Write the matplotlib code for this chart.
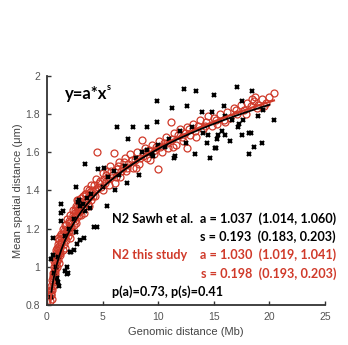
import numpy as np
from matplotlib import pyplot as plt

# red circles: N2 this study
red_x = [0.3, 0.35, 0.4, 0.42, 0.45, 0.5, 0.5, 0.55, 0.6, 0.6, 0.65, 0.7, 0.7, 0.75, 0.8, 0.85, 0.9, 0.9,
         0.95, 1.0, 1.0, 1.05, 1.1, 1.1, 1.2, 1.2, 1.3, 1.3, 1.4, 1.4, 1.5, 1.5, 1.6, 1.6, 1.7, 1.7, 1.8,
         1.8, 1.9, 2.0, 2.0, 2.1, 2.1, 2.2, 2.3, 2.3, 2.4, 2.5, 2.5, 2.6, 2.67, 2.7, 2.7, 2.8, 2.82, 2.9,
         3.0, 3.0, 3.1, 3.2, 3.3, 3.4, 3.5, 3.6, 3.7, 3.8, 3.9, 4.0, 4.1, 4.3, 4.4, 4.5, 4.6, 4.8, 5.0,
         5.0, 5.2, 5.4, 5.5, 5.7, 5.9, 6.0, 6.1, 6.3, 6.5, 6.6, 6.8, 7.0, 7.1, 7.3, 7.5, 7.7, 7.9, 8.1,
         8.3, 8.5, 8.6, 8.8, 9.0, 9.2, 9.4, 9.6, 9.8, 10.0, 10.1, 10.3, 10.5, 10.7, 10.9, 11.15, 11.2,
         11.4, 11.6, 11.8, 12.0, 12.2, 12.4, 12.6, 12.6, 12.9, 13.1, 13.3, 13.6, 13.8, 14.0, 14.3, 14.5,
         14.8, 15.0, 15.3, 15.6, 15.9, 16.2, 16.5, 16.8, 17.1, 17.4, 17.7, 18.0, 18.3, 18.4, 18.6, 18.7,
         19.0, 19.3, 19.7, 20.0, 20.4,
         0.32, 0.38, 0.45, 0.52, 0.58, 0.62, 0.68, 0.72, 0.78, 0.82, 0.88, 0.92, 0.98, 1.02, 1.08, 1.15,
         1.18, 1.25, 1.35, 1.45, 1.55, 1.65, 1.75, 1.85, 1.95, 2.05, 2.15, 2.25, 2.35, 2.45, 2.55, 2.65,
         2.75, 2.85, 2.95, 3.05, 3.15, 3.25, 3.35, 3.45, 3.55, 3.65, 3.75, 3.85, 3.95, 4.05, 4.2, 4.35,
         4.5, 4.7, 4.9, 5.1, 5.3, 5.6, 5.8, 6.2, 6.4, 6.7, 6.9, 7.2, 7.6, 8.0, 8.4, 8.9, 9.3, 9.7, 10.2,
         10.8, 11.3, 12.1, 12.8, 13.4, 14.2, 15.2, 16.0, 17.0, 17.9, 18.9, 19.5]
red_y = [0.82, 0.85, 0.88, 0.83, 0.93, 0.90, 0.95, 0.92, 0.97, 1.00, 0.95, 1.02, 0.98, 1.05, 1.01, 1.07, 1.03, 1.10,
         1.06, 1.04, 1.12, 1.08, 1.02, 1.14, 1.10, 1.06, 1.13, 1.17, 1.09, 1.20, 1.12, 1.15, 1.22, 1.10, 1.18, 1.14, 1.20,
         1.25, 1.16, 1.19, 1.23, 1.27, 1.15, 1.21, 1.25, 1.30, 1.22, 1.28, 1.24, 1.32, 1.315, 1.26, 1.35, 1.30, 1.35, 1.27,
         1.33, 1.29, 1.36, 1.31, 1.28, 1.38, 1.34, 1.41, 1.36, 1.32, 1.39, 1.43, 1.37, 1.40, 1.46, 1.60, 1.42, 1.45, 1.49,
         1.40, 1.44, 1.50, 1.46, 1.53, 1.48, 1.595, 1.44, 1.51, 1.55, 1.47, 1.52, 1.57, 1.50, 1.54, 1.59, 1.52, 1.56, 1.60,
         1.54, 1.665, 1.58, 1.62, 1.57, 1.61, 1.64, 1.59, 1.63, 1.51, 1.66, 1.60, 1.65, 1.68, 1.62, 1.76, 1.67,
         1.70, 1.64, 1.69, 1.72, 1.66, 1.70, 1.73, 1.62, 1.69, 1.75, 1.71, 1.74, 1.77, 1.72, 1.76, 1.79,
         1.74, 1.78, 1.75, 1.80, 1.77, 1.81, 1.78, 1.83, 1.80, 1.85, 1.82, 1.86, 1.84, 1.88, 1.87, 1.89,
         1.85, 1.88, 1.86, 1.89, 1.91,
         0.86, 0.90, 0.88, 0.97, 0.94, 1.03, 0.99, 0.96, 1.03, 1.09, 1.05, 1.00, 1.09, 1.15, 1.11, 1.07,
         1.16, 1.12, 1.15, 1.17, 1.19, 1.16, 1.22, 1.18, 1.24, 1.21, 1.24, 1.19, 1.27, 1.26, 1.30, 1.23,
         1.29, 1.33, 1.31, 1.27, 1.34, 1.37, 1.32, 1.35, 1.38, 1.33, 1.40, 1.37, 1.35, 1.40, 1.43, 1.37,
         1.41, 1.44, 1.42, 1.46, 1.48, 1.43, 1.50, 1.47, 1.53, 1.50, 1.55, 1.52, 1.56, 1.52, 1.57, 1.60, 1.56, 1.61, 1.63,
         1.65, 1.63, 1.68, 1.72, 1.68, 1.74, 1.77, 1.76, 1.82, 1.80, 1.83, 1.84]

# black crosses: N2 Sawh et al.
black_x = [12.3, 13.4, 15.0, 17.1, 18.4, 9.9, 11.2, 12.6, 20.4, 19.4, 17.6, 17.2, 17.5, 18.2, 16.5, 15.2, 19.3,
           18.6, 13.3, 14.7, 18.2, 11.4, 6.3, 7.7, 9.0, 9.9, 7.3, 3.4, 7.2, 8.3, 4.6, 5.1, 6.1, 2.6, 5.4, 1.3,
           2.9, 10.6, 11.5, 9.0, 9.4, 1.3, 1.3, 0.5, 0.4, 1.8, 1.9, 1.0, 1.1, 0.4, 4.5, 3.3, 2.2, 2.6, 1.4,
           2.8, 3.0, 3.4, 3.9, 4.2, 3.0, 2.7, 2.4, 2.1, 1.6, 1.8, 0.9, 0.5, 17.5, 15.9, 13.9, 14.8, 16.6,
           17.3, 18.3, 15.7, 15.4, 16.0, 14.5, 14.4, 15.3, 15.1,
           0.6, 0.8, 1.0, 1.6, 2.0, 2.4, 3.2, 3.6, 4.0, 5.0, 5.5, 6.0, 6.5, 7.0, 8.0, 8.5, 9.5, 10.0,
           11.0, 12.0, 12.5, 13.0, 14.0, 16.0, 19.0]
black_y = [1.93, 1.92, 1.90, 1.94, 1.92, 1.87, 1.83, 1.84, 1.77, 1.82, 1.77, 1.73, 1.69, 1.70, 1.66, 1.62, 1.65,
           1.63, 1.59, 1.57, 1.59, 1.57, 1.73, 1.73, 1.73, 1.76, 1.67, 1.54, 1.44, 1.48, 1.51, 1.52, 1.40, 1.42, 1.32, 1.33,
           1.35, 1.63, 1.58, 1.61, 1.59, 1.28, 1.24, 1.15, 1.04, 1.00, 0.97, 0.92, 0.90, 0.84, 1.21, 1.15, 1.08, 1.18, 1.29,
           1.34, 1.32, 1.29, 1.31, 1.21, 1.14, 1.12, 1.09, 1.08, 0.98, 0.96, 0.94, 1.06, 1.87, 1.84, 1.81, 1.81, 1.77,
           1.75, 1.70, 1.71, 1.69, 1.69, 1.69, 1.65, 1.67, 1.62,
           0.97, 1.00, 1.05, 1.16, 1.20, 1.25, 1.33, 1.36, 1.38, 1.42, 1.47, 1.50, 1.48, 1.53, 1.57, 1.60, 1.58, 1.64,
           1.67, 1.71, 1.65, 1.73, 1.70, 1.79, 1.79]

# power-law fits y = a * x^s
fit_sawh = (1.037, 0.193)
fit_this = (1.030, 0.198)

red = '#d03a2a'
gray = '#444444'

fig = plt.figure(figsize=(3.48, 3.45), dpi=100)
ax = fig.add_axes([0.135, 0.116, 0.799, 0.664])

ax.plot(red_x, red_y, 'o', mfc='none', mec=red, ms=5, mew=0.9)
ax.plot(black_x, black_y, 'x', color='black', ms=3.2, mew=1.6)

xs = np.linspace(0.3, 20.4, 200)
ax.plot(xs, fit_this[0] * xs ** fit_this[1], color=red, lw=1.6)
xs = np.linspace(0.4, 20.0, 200)
ax.plot(xs, fit_sawh[0] * xs ** fit_sawh[1], color='black', lw=1.3)

ax.set_xlim(0, 25)
ax.set_ylim(0.8, 2.0)
ax.set_xticks([0, 5, 10, 15, 20, 25])
ax.set_yticks([0.8, 1, 1.2, 1.4, 1.6, 1.8, 2])
ax.set_yticklabels(['0.8', '1', '1.2', '1.4', '1.6', '1.8', '2'])
for s in ['top', 'right']:
    ax.spines[s].set_visible(False)
for s in ['left', 'bottom']:
    ax.spines[s].set_color('#333333')
    ax.spines[s].set_linewidth(1.3)
ax.tick_params(direction='in', length=3, width=1, colors='#333333',
               labelcolor='#555555', labelsize=7.5, pad=5)
for lab in ax.get_xticklabels() + ax.get_yticklabels():
    lab.set_family('Liberation Sans')

ax.set_xlabel('Genomic distance (Mb)', fontsize=8, color=gray, family='Liberation Sans', labelpad=4)
ax.set_ylabel('Mean spatial distance (\u03bcm)', fontsize=8, color=gray, family='Liberation Sans', labelpad=2)

tf = dict(family='Lato', weight='bold', fontsize=9.1, va='center', transform=fig.transFigure)
W, H = 348, 345
def px(x, y):
    return x / W, 1 - y / H

ax.text(*px(65, 94), 'y=a*x', family='Lato', weight='bold', fontsize=12, va='center',
        transform=fig.transFigure)
ax.text(*px(106.5, 87), 's', family='Lato', weight='bold', fontsize=6.5, va='center',
        transform=fig.transFigure)

ax.text(*px(112, 219), 'N2 Sawh et al.', color='black', **tf)
ax.text(*px(200, 219), 'a = 1.037  (1.014, 1.060)', color='black', **tf)
ax.text(*px(200, 237), 's = 0.193  (0.183, 0.203)', color='black', **tf)
ax.text(*px(112, 255), 'N2 this study', color=red, **tf)
ax.text(*px(200, 255), 'a = 1.030  (1.019, 1.041)', color=red, **tf)
ax.text(*px(201, 274), 's = 0.198  (0.193, 0.203)', color=red, **tf)
ax.text(*px(112, 292), 'p(a)=0.73, p(s)=0.41', color='black', **tf)

fig.savefig('out.png', dpi=100)
